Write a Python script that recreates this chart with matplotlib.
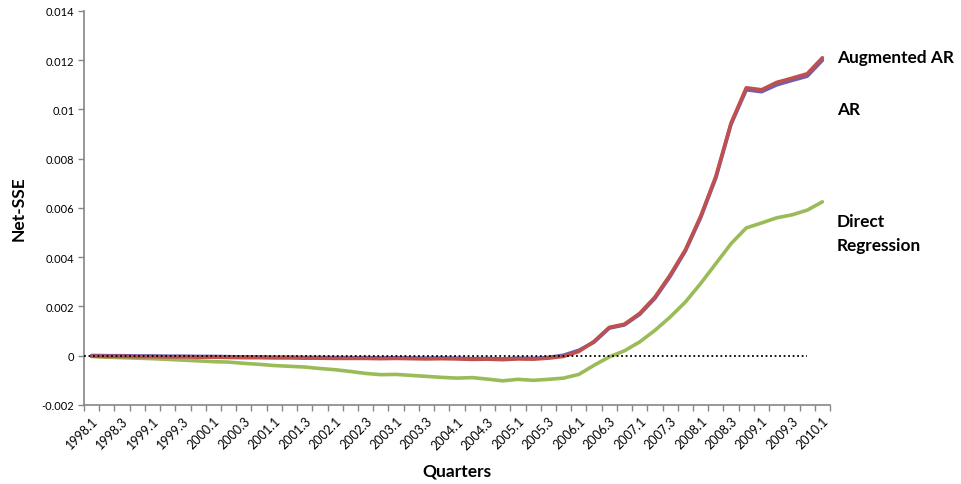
import matplotlib
matplotlib.use("Agg")
import matplotlib.pyplot as plt
import numpy as np

# Quarterly periods 1998.1 .. 2010.1
quarters = [f"{y}.{q}" for y in range(1998, 2011) for q in range(1, 5)][:49]

# Net-SSE values (x 1e-3)
augmented_ar = [-0.02, -0.03, -0.03, -0.04, -0.04, -0.05, -0.05, -0.06, -0.06, -0.07,
                -0.08, -0.08, -0.09, -0.09, -0.10, -0.10, -0.11, -0.11, -0.11, -0.12,
                -0.11, -0.12, -0.13, -0.12, -0.13, -0.15, -0.14, -0.16, -0.13, -0.14,
                -0.10, -0.03, 0.17, 0.58, 1.15, 1.28, 1.72, 2.38, 3.28, 4.30,
                5.66, 7.28, 9.45, 10.88, 10.80, 11.10, 11.27, 11.45, 12.10]
ar = [0.01, 0.00, 0.00, -0.01, -0.01, -0.02, -0.02, -0.03, -0.03, -0.04,
      -0.05, -0.05, -0.06, -0.06, -0.07, -0.07, -0.08, -0.08, -0.08, -0.09,
      -0.08, -0.09, -0.10, -0.09, -0.10, -0.12, -0.11, -0.13, -0.10, -0.11,
      -0.07, 0.02, 0.22, 0.55, 1.12, 1.25, 1.68, 2.33, 3.22, 4.25,
      5.60, 7.22, 9.40, 10.80, 10.72, 11.00, 11.18, 11.35, 12.00]
direct_regression = [-0.03, -0.06, -0.08, -0.10, -0.12, -0.15, -0.18, -0.21, -0.24, -0.26,
                     -0.31, -0.35, -0.40, -0.43, -0.46, -0.52, -0.57, -0.64, -0.72, -0.77,
                     -0.76, -0.80, -0.84, -0.88, -0.91, -0.89, -0.95, -1.02, -0.96, -1.00,
                     -0.96, -0.91, -0.76, -0.39, -0.05, 0.20, 0.56, 1.03, 1.57, 2.18,
                     2.93, 3.74, 4.55, 5.19, 5.39, 5.60, 5.72, 5.91, 6.25]

series_labels = ["Augmented AR", "AR", "Direct\nRegression"]

plt.rcParams['font.family'] = ['Lato', 'DejaVu Sans']

fig = plt.figure(figsize=(9.61, 4.85), dpi=100)
ax = fig.add_axes([0.0874, 0.163, 0.7763, 0.8123])

x = np.arange(len(quarters))
scale = 1e-3
ax.plot(x, np.array(direct_regression) * scale, color="#9BBB59", lw=2.6, solid_capstyle="round")
ax.plot(x, np.array(ar) * scale, color="#6F5FB0", lw=2.6, solid_capstyle="round")
ax.plot(x, np.array(augmented_ar) * scale, color="#C0504D", lw=2.6, solid_capstyle="round")
ax.hlines(0, -0.5, 47, colors="black", linestyles=(0, (1, 1.5)), lw=1.3, zorder=5)

ax.set_xlim(-0.5, len(quarters) - 0.5)
ax.set_ylim(-0.002, 0.014)
ax.set_yticks(np.arange(-0.002, 0.0141, 0.002))
ax.set_yticklabels(["-0.002", "0", "0.002", "0.004", "0.006", "0.008", "0.01", "0.012", "0.014"])

ax.set_xticks(x[::2])
ax.set_xticklabels(quarters[::2], rotation=45, ha="right", va="top", rotation_mode="anchor")
ax.set_xticks(np.arange(-0.5, len(quarters), 1), minor=True)

grey = "#868686"
for s in ["top", "right"]:
    ax.spines[s].set_visible(False)
for s in ["left", "bottom"]:
    ax.spines[s].set_color(grey)
    ax.spines[s].set_linewidth(1.2)
ax.tick_params(axis="y", direction="out", length=4, width=1, color=grey, labelsize=8, pad=3)
ax.tick_params(axis="x", which="major", length=0, labelsize=9, pad=7)
ax.tick_params(axis="x", which="minor", direction="out", length=4, width=1, color=grey)

ax.set_ylabel("Net-SSE", fontsize=12.5, fontweight="bold", labelpad=11)
ax.set_xlabel("Quarters", fontsize=12.5, fontweight="bold", labelpad=8)

# Series names placed beside the line ends
ytf = ax.get_yaxis_transform()
ax.text(1.009, 0.01215, series_labels[0], transform=ytf,
        fontsize=12.4, fontweight="bold", va="center", ha="left")
ax.text(1.009, 0.01000, series_labels[1], transform=ytf,
        fontsize=12.4, fontweight="bold", va="center", ha="left")
ax.text(1.009, 0.00498, series_labels[2], transform=ytf,
        fontsize=12.4, fontweight="bold", va="center", ha="left", linespacing=1.65)

fig.savefig("out.png", dpi=100)
